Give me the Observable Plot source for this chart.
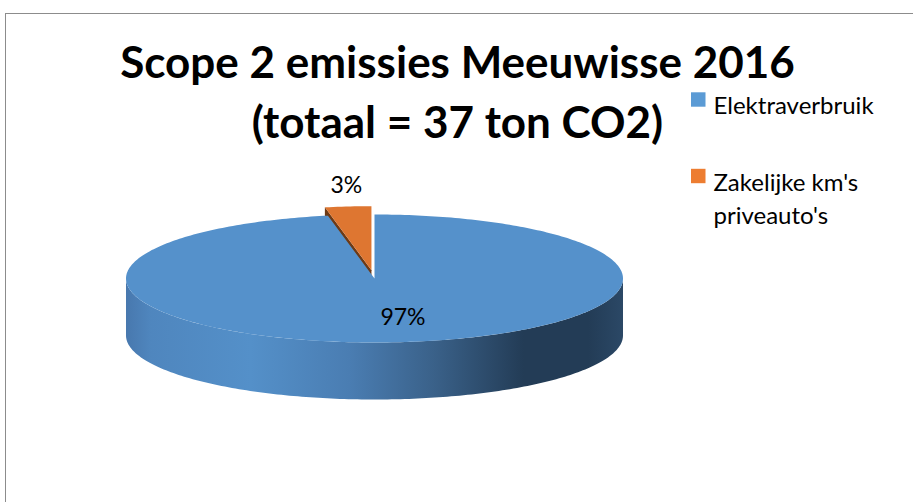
<!DOCTYPE html>
<html><head><meta charset="utf-8">
<script src="https://cdn.jsdelivr.net/npm/d3@7"></script>
<script src="https://cdn.jsdelivr.net/npm/@observablehq/plot@0.6"></script>
<style>
html,body{margin:0;padding:0;background:#fff;overflow:hidden}
#wrap{position:relative;width:913px;height:502px;overflow:hidden}
#frame{position:absolute;left:5px;top:13px;width:1000px;height:700px;border-left:1px solid #8c8c8c;border-top:1px solid #8c8c8c;box-sizing:border-box}
#chart{position:absolute;left:0;top:0}
</style></head><body>
<div id="wrap"><div id="frame"></div><div id="chart"></div></div>
<script>
// ---- data ----
const categories = ["Elektraverbruik", "Zakelijke km's\npriveauto's"];
const shares = [97, 3];
const sliceLabels = ["97%", "3%"];
const titleLines = ["Scope 2 emissies Meeuwisse 2016", "(totaal = 37 ton CO2)"];
const topColors = ["#5591CB", "#DE7631"];
const legendColors = ["#5B9BD5", "#ED7D31"];
const explode = [0, 0.13];

// ---- layout ----
const W = 913, H = 502;
const cx = 374, cy = 278, rx = 248.5, ry = 64, depth = 57;
const font = "Lato, 'Open Sans', sans-serif";

const total = d3.sum(shares);
let acc = 0;
const slices = shares.map((v, i) => {
  const a0 = acc / total * 360; acc += v; const a1 = acc / total * 360;
  const mid = (a0 + a1) / 2 * Math.PI / 180;
  return {i, a0, a1, mid, ox: rx * explode[i] * Math.sin(mid), oy: -ry * explode[i] * Math.cos(mid)};
});
const P = (deg, s, dy = 0) => {
  const t = deg * Math.PI / 180;
  return {x: cx + rx * Math.sin(t) + s.ox, y: cy - ry * Math.cos(t) + s.oy + dy};
};
function arcPts(s, a0, a1, dy = 0) {
  const n = Math.max(2, Math.ceil(Math.abs(a1 - a0)));
  return d3.range(n + 1).map(k => P(a0 + (a1 - a0) * k / n, s, dy));
}
// top faces
const tops = slices.map(s => [{x: cx + s.ox, y: cy + s.oy}, ...arcPts(s, s.a0, s.a1), {x: cx + s.ox, y: cy + s.oy}]);
// front side (visible outer wall, 90..270 deg) of the main slice
const blue = slices[0];
const frontA0 = Math.max(90, blue.a0), frontA1 = Math.min(270, blue.a1);
const sideFront = [...arcPts(blue, frontA0, frontA1), ...arcPts(blue, frontA1, frontA0, depth)];
// radial face of exploded slice at its start angle
const orange = slices[1];
const c0 = {x: cx + orange.ox, y: cy + orange.oy};
const e0 = P(orange.a0, orange);
const radialFace = [c0, e0, {x: e0.x, y: e0.y + depth}, {x: c0.x, y: c0.y + depth}, c0];

// labels
const labelPos = slices.map(s => {
  const f = s.i === 0 ? 0.62 : 1.33;
  return {x: cx + rx * f * Math.sin(s.mid) + s.ox, y: cy - ry * f * Math.cos(s.mid) + s.oy, text: sliceLabels[s.i]};
});
labelPos[0].x += 14;
labelPos[1].x += 6;

const titleData = titleLines.map((t, i) => ({t, x: 457, y: 63 + i * 60}));
const legendY = [99.5, 176];
const legendData = categories.map((c, i) => ({c, i, x: 691, y: legendY[i]}));

const chart = Plot.plot({
  width: W, height: H, margin: 0,
  x: {domain: [0, W], range: [0, W], axis: null},
  y: {domain: [0, H], range: [0, H], axis: null},
  style: {background: "transparent", overflow: "visible"},
  marks: [
    Plot.line(radialFace, {x: "x", y: "y", fill: "#6E3A15", stroke: "none", curve: "linear"}),
    Plot.line(sideFront, {x: "x", y: "y", fill: "url(#sideGrad)", stroke: "none", curve: "linear"}),
    Plot.line(tops[0], {x: "x", y: "y", fill: topColors[0], stroke: "none", curve: "linear"}),
    Plot.line(tops[1], {x: "x", y: "y", fill: topColors[1], stroke: "none", curve: "linear"}),
    Plot.text(labelPos, {x: "x", y: "y", text: "text", fontSize: 23, fontFamily: font, fill: "#000"}),
    Plot.text(titleData, {x: "x", y: "y", text: "t", fontSize: 44, fontWeight: 700, fontFamily: font, fill: "#000"}),
    Plot.rect(legendData, {x1: "x", x2: d => d.x + 14.5, y1: d => d.y - 7.2, y2: d => d.y + 7.2, fill: d => legendColors[d.i]}),
    Plot.text(legendData, {x: d => d.x + 22, y: "y", text: "c", textAnchor: "start", lineAnchor: "top", dy: -9.5, lineHeight: 1.4, fontSize: 24, fontFamily: font, fill: "#000"})
  ]
});
const svg = d3.select(chart);
const g = svg.insert("defs", ":first-child").append("linearGradient").attr("id", "sideGrad").attr("x1", "0").attr("x2", "1").attr("y1", "0").attr("y2", "0");
[[0, "#4878AE"], [0.05, "#4F86BE"], [0.25, "#5490C9"], [0.45, "#4A7DB2"], [0.62, "#3A6189"], [0.8, "#233C56"], [0.93, "#233C56"], [1, "#2B4866"]]
  .forEach(([o, c]) => g.append("stop").attr("offset", o).attr("stop-color", c));
document.getElementById("chart").appendChild(chart);
</script></body></html>
